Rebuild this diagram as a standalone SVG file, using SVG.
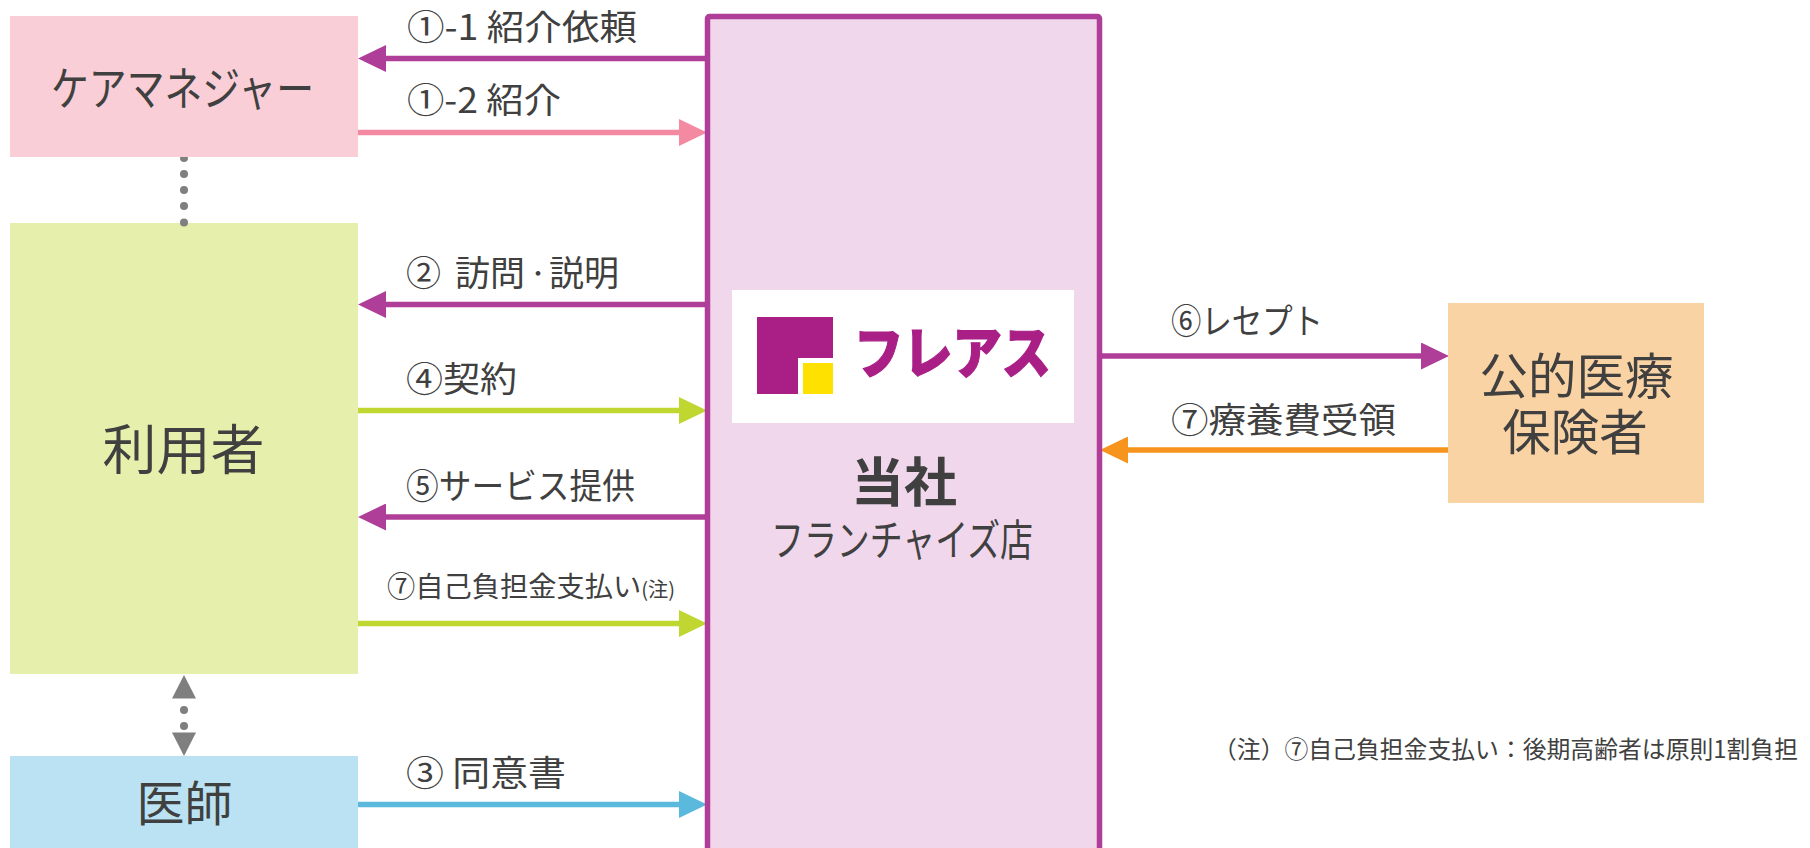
<svg xmlns="http://www.w3.org/2000/svg" width="1810" height="848" viewBox="0 0 1810 848">
<style>
text{font-family:"Noto Sans CJK JP","Noto Sans",sans-serif;fill:#404040}
.lb{font-size:35px}
.c{text-anchor:middle}
.ln{fill:none;stroke-width:5.4}
.dot{fill:#7f7f7f}
</style>
<defs>
<marker id="hP" markerUnits="userSpaceOnUse" markerWidth="28" markerHeight="27" viewBox="0 0 28 27" refX="1" refY="13.5" orient="auto"><path d="M0 0L28 13.5L0 27Z" fill="#ae3e97"/></marker>
<marker id="hK" markerUnits="userSpaceOnUse" markerWidth="28" markerHeight="27" viewBox="0 0 28 27" refX="1" refY="13.5" orient="auto"><path d="M0 0L28 13.5L0 27Z" fill="#f48aa2"/></marker>
<marker id="hG" markerUnits="userSpaceOnUse" markerWidth="28" markerHeight="27" viewBox="0 0 28 27" refX="1" refY="13.5" orient="auto"><path d="M0 0L28 13.5L0 27Z" fill="#bfd730"/></marker>
<marker id="hB" markerUnits="userSpaceOnUse" markerWidth="28" markerHeight="27" viewBox="0 0 28 27" refX="1" refY="13.5" orient="auto"><path d="M0 0L28 13.5L0 27Z" fill="#5bb9de"/></marker>
<marker id="hO" markerUnits="userSpaceOnUse" markerWidth="28" markerHeight="27" viewBox="0 0 28 27" refX="1" refY="13.5" orient="auto"><path d="M0 0L28 13.5L0 27Z" fill="#f7941e"/></marker>
</defs>
<g id="node-user"><rect x="10" y="223" width="348" height="451" fill="#e6f0ac"/><text class="c" x="183.5" y="470" font-size="54">利用者</text></g>
<g id="connectors">
<g id="dots-care-user"><circle class="dot" cx="184" cy="158" r="4"/><circle class="dot" cx="184" cy="174" r="4"/><circle class="dot" cx="184" cy="190" r="4"/><circle class="dot" cx="184" cy="206" r="4"/><circle class="dot" cx="184" cy="222.5" r="4"/></g>
<g id="dots-user-doctor"><path class="dot" d="M184 675L196 698.5H172Z"/><circle class="dot" cx="184" cy="710" r="4"/><circle class="dot" cx="184" cy="726" r="4"/><path class="dot" d="M184 756L196 732.5H172Z"/></g>
<line class="ln" x1="706" y1="58.5" x2="385" y2="58.5" stroke="#ae3e97" marker-end="url(#hP)"/>
<line class="ln" x1="358" y1="132.5" x2="680" y2="132.5" stroke="#f48aa2" marker-end="url(#hK)"/>
<line class="ln" x1="706" y1="304.5" x2="385" y2="304.5" stroke="#ae3e97" marker-end="url(#hP)"/>
<line class="ln" x1="358" y1="410.5" x2="680" y2="410.5" stroke="#bfd730" marker-end="url(#hG)"/>
<line class="ln" x1="706" y1="517" x2="385" y2="517" stroke="#ae3e97" marker-end="url(#hP)"/>
<line class="ln" x1="358" y1="623.5" x2="680" y2="623.5" stroke="#bfd730" marker-end="url(#hG)"/>
<line class="ln" x1="358" y1="804.5" x2="680" y2="804.5" stroke="#5bb9de" marker-end="url(#hB)"/>
<line class="ln" x1="1101" y1="356" x2="1422" y2="356" stroke="#ae3e97" marker-end="url(#hP)"/>
<line class="ln" x1="1448" y1="450" x2="1127" y2="450" stroke="#f7941e" marker-end="url(#hO)"/>
</g>
<g id="node-care"><rect x="10" y="16" width="348" height="141" fill="#f9ced6"/><text x="51" y="105" font-size="46" textLength="263" lengthAdjust="spacingAndGlyphs">ケアマネジャー</text></g>
<g id="node-doctor"><rect x="10" y="756" width="348" height="92" fill="#bbe2f2"/><text class="c" x="184.5" y="821" font-size="48">医師</text></g>
<g id="node-company">
<rect x="707.5" y="16.5" width="392" height="860" rx="2" fill="#f0d7ec" stroke="#ae3e97" stroke-width="5.5"/>
<g id="logo"><rect x="732" y="290" width="342" height="133" fill="#fff"/>
<path d="M757 317H833V358H798V394H757Z" fill="#a91f86"/><rect x="803" y="363" width="30" height="31" fill="#ffe100"/>
<text x="854" y="373" font-size="56" font-weight="900" textLength="197" lengthAdjust="spacingAndGlyphs" stroke="#a91f86" stroke-width="1.2" style="fill:#a91f86">フレアス</text></g>
<text class="c" x="904" y="502" font-size="53" font-weight="700">当社</text>
<text x="771" y="556" font-size="43" textLength="262" lengthAdjust="spacingAndGlyphs">フランチャイズ店</text>
</g>
<g id="node-insurer"><rect x="1448" y="303" width="256" height="200" fill="#fad3a4"/>
<text class="c" x="1576.5" y="394" font-size="48.5">公的医療</text><text class="c" x="1575" y="450" font-size="48.5">保険者</text></g>
<g id="labels">
<text class="lb" x="407" y="40" textLength="230" lengthAdjust="spacingAndGlyphs">①-1 紹介依頼</text>
<text class="lb" x="407" y="113" textLength="154" lengthAdjust="spacingAndGlyphs">①-2 紹介</text>
<text class="lb" x="406" y="286">②<tspan x="455">訪問</tspan><tspan x="527" y="281" font-size="22">・</tspan><tspan x="549" y="286">説明</tspan></text>
<text class="lb" x="406" y="392" textLength="111" lengthAdjust="spacingAndGlyphs">④契約</text>
<text class="lb" x="406" y="499" textLength="229" lengthAdjust="spacingAndGlyphs">⑤サービス提供</text>
<text x="387" y="597" font-size="28" textLength="288" lengthAdjust="spacingAndGlyphs">⑦自己負担金支払い<tspan font-size="20">(注)</tspan></text>
<text class="lb" x="406" y="786" textLength="160" lengthAdjust="spacingAndGlyphs">③ 同意書</text>
<text class="lb" x="1171" y="334" textLength="152" lengthAdjust="spacingAndGlyphs">⑥レセプト</text>
<text class="lb" x="1171" y="433" textLength="225" lengthAdjust="spacingAndGlyphs">⑦療養費受領</text>
<text x="1213" y="758" font-size="24" textLength="585" lengthAdjust="spacingAndGlyphs">（注）⑦自己負担金支払い：後期高齢者は原則1割負担</text>
</g>
</svg>
